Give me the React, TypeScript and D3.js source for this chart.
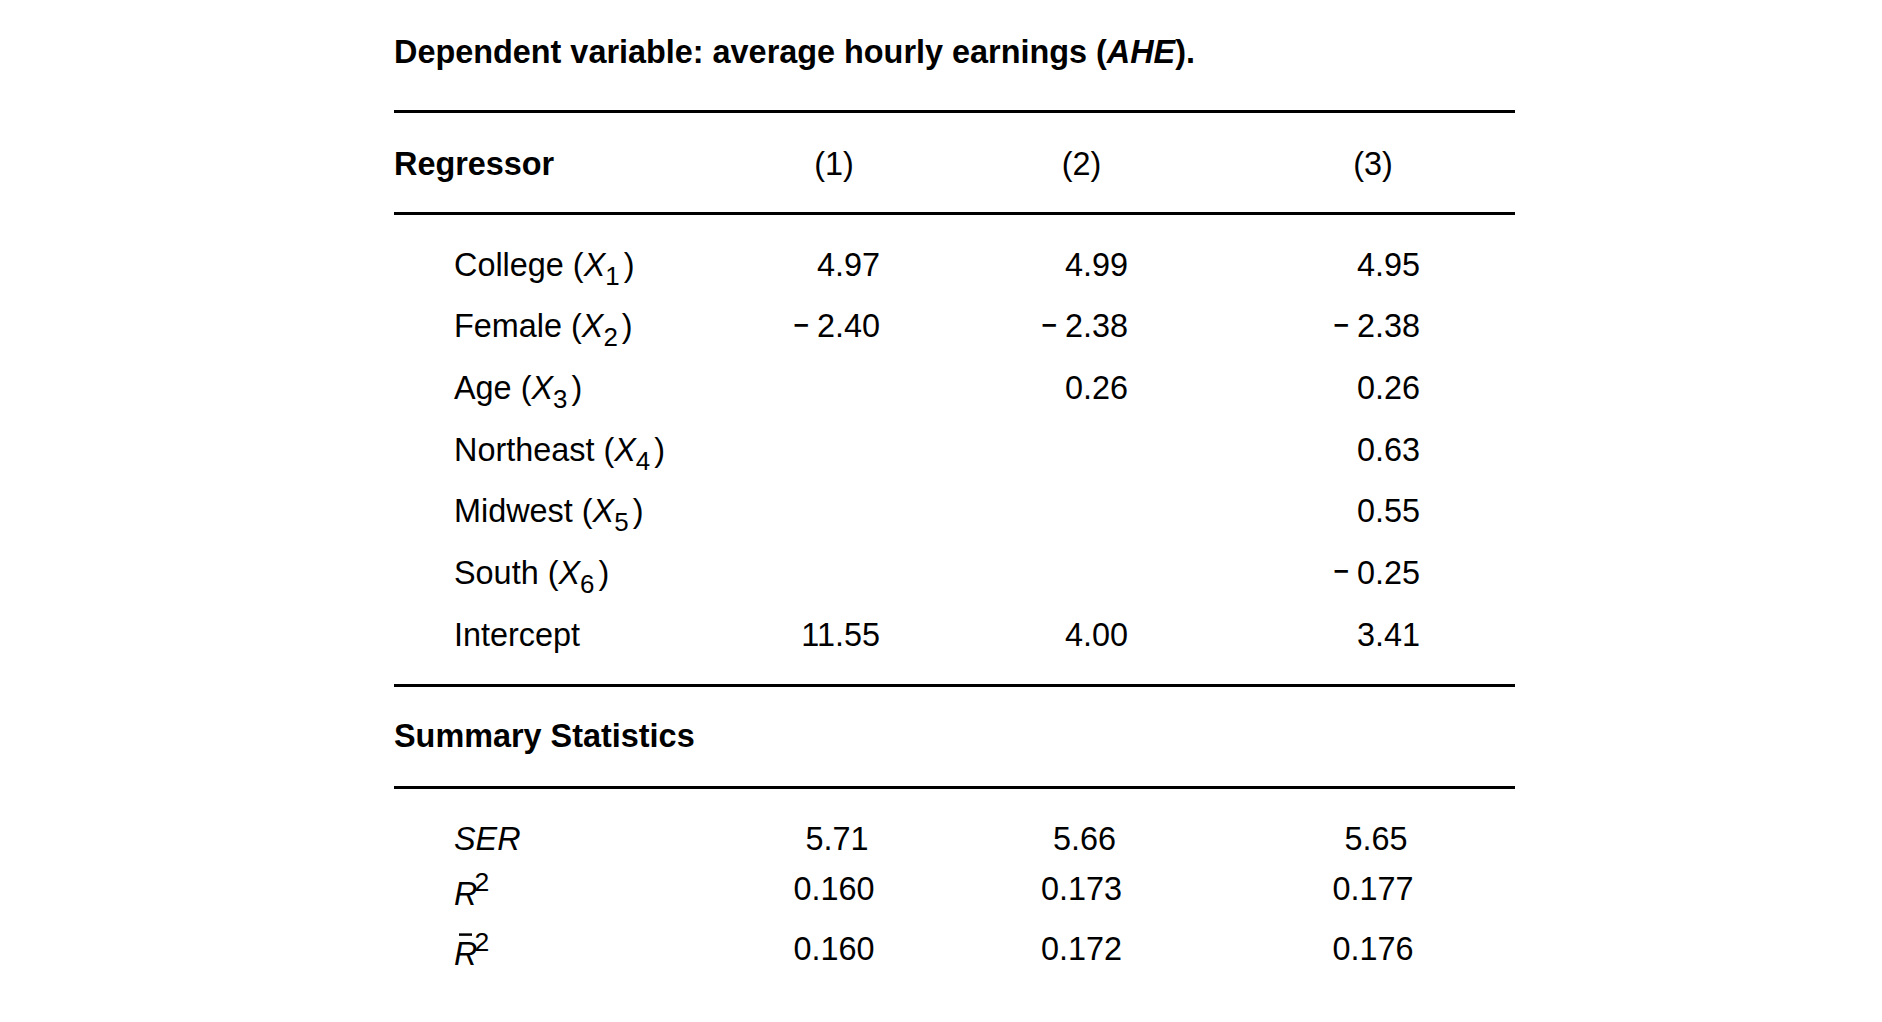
import React from "react";
import * as d3 from "d3";

// regression table: dependent variable AHE
const regressors = ["College", "Female", "Age", "Northeast", "Midwest", "South", "Intercept"];
const regressorSubs = ["1", "2", "3", "4", "5", "6", ""];
const models = ["(1)", "(2)", "(3)"];
const coefModel1 = [4.97, -2.4, null, null, null, null, 11.55];
const coefModel2 = [4.99, -2.38, 0.26, null, null, null, 4.0];
const coefModel3 = [4.95, -2.38, 0.26, 0.63, 0.55, -0.25, 3.41];
const statNames = ["SER", "R2", "adjR2"];
const serValues = [5.71, 5.66, 5.65];
const r2Values = [0.16, 0.173, 0.177];
const adjR2Values = [0.16, 0.172, 0.176];

const width = 1882;
const height = 1022;
const fontSize = 32.4;
const font = "'Liberation Sans', Arial, Helvetica, sans-serif";
const capHalf = fontSize * 0.716 / 2;

const tableLeft = 394;
const tableRight = 1515;
const labelX = 454;
const rules = [111.6, 213.6, 685.4, 787.4];

const fmt2 = d3.format(".2f");
const fmt3 = d3.format(".3f");

function Coef({ value, x, y }: { value: number; x: number; y: number }) {
  const neg = value < 0;
  return (
    <text x={x} y={y} textAnchor="end">
      {neg && (
        <tspan fontSize={26.5} fontWeight="bold" dy={-3.5}>
          {"\u2212"}
        </tspan>
      )}
      <tspan dx={neg ? 8 : 0} dy={neg ? 3.5 : 0}>{fmt2(Math.abs(value))}</tspan>
    </text>
  );
}

export default function App() {
  const coefs = [coefModel1, coefModel2, coefModel3];
  const stats = [serValues, r2Values, adjR2Values];

  const colCenter = d3.scaleOrdinal<string, number>().domain(models).range([834, 1081.5, 1373]);
  const colRight = d3.scaleOrdinal<string, number>().domain(models).range([880, 1128, 1420]);
  const rowY = d3.scalePoint<string>().domain(regressors).range([264, 634]);
  const statY = d3.scaleOrdinal<string, number>().domain(statNames).range([838, 888, 948]);

  const statLabel = (name: string, y: number) => {
    if (name === "SER") {
      return (
        <text x={labelX} y={y} fontStyle="italic">SER</text>
      );
    }
    const ly = y + 5;
    return (
      <g>
        <text x={labelX} y={ly}>
          <tspan fontStyle="italic">R</tspan>
          <tspan dx={-3} dy={-14} fontSize={fontSize * 0.82}>2</tspan>
        </text>
        {name === "adjR2" && (
          <line x1={labelX + 5} x2={labelX + 18} y1={ly - 30} y2={ly - 30} stroke="#000" strokeWidth={2.5} />
        )}
      </g>
    );
  };

  return (
    <svg
      width={width}
      height={height}
      style={{ position: "absolute", left: 0, top: 0, background: "#fff" }}
      fontFamily={font}
      fontSize={fontSize}
      fill="#000"
    >
      <text x={tableLeft} y={51 + capHalf} fontWeight="bold">
        Dependent variable: average hourly earnings (<tspan fontStyle="italic">AHE</tspan>).
      </text>

      {rules.map((r, i) => (
        <line key={i} x1={tableLeft} x2={tableRight} y1={r} y2={r} stroke="#000" strokeWidth={3} />
      ))}

      {/* header */}
      <text x={tableLeft} y={163 + capHalf} fontWeight="bold">Regressor</text>
      {models.map(m => (
        <text key={m} x={colCenter(m)} y={163 + capHalf} textAnchor="middle">{m}</text>
      ))}

      {/* coefficients */}
      {regressors.map((r, i) => {
        const y = (rowY(r) as number) + capHalf;
        return (
          <g key={r}>
            <text x={labelX} y={y}>
              {r}
              {regressorSubs[i] && (
                <>
                  {" ("}
                  <tspan fontStyle="italic">X</tspan>
                  <tspan dy={9} fontSize={fontSize * 0.8}>{regressorSubs[i]}</tspan>
                  <tspan dx={4} dy={-9}>)</tspan>
                </>
              )}
            </text>
            {models.map((m, j) => {
              const v = coefs[j][i];
              return v == null ? null : <Coef key={m} value={v} x={colRight(m)} y={y} />;
            })}
          </g>
        );
      })}

      <text x={tableLeft} y={735.8 + capHalf} fontWeight="bold">Summary Statistics</text>

      {statNames.map((s, i) => {
        const y = statY(s) + capHalf;
        const f = s === "SER" ? fmt2 : fmt3;
        return (
          <g key={s}>
            {statLabel(s, y)}
            {models.map((m, j) => (
              <text key={m} x={colCenter(m) + (s === "SER" ? 3 : 0)} y={y} textAnchor="middle">{f(stats[i][j])}</text>
            ))}
          </g>
        );
      })}
    </svg>
  );
}
